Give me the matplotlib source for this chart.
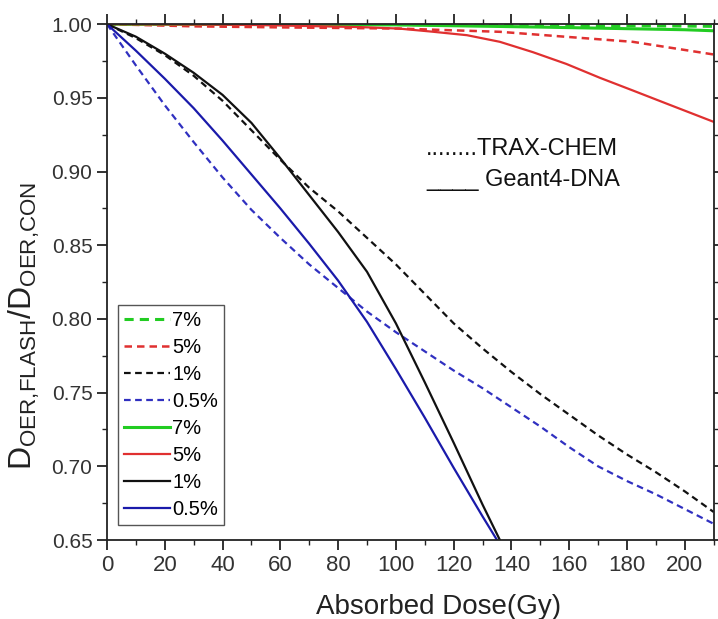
import numpy as np
import matplotlib
matplotlib.use('Agg')
from matplotlib import pyplot as plt
from matplotlib.ticker import MultipleLocator

plt.rcParams['font.family'] = ['Liberation Sans', 'DejaVu Sans']

# TRAX-CHEM (dashed)
trax_7_x = [0, 50, 100, 150, 200, 210]
trax_7_y = [1.0, 1.0, 0.9997, 0.9993, 0.9987, 0.9985]
trax_5_x = [0, 30, 60, 101, 136, 159, 182, 210]
trax_5_y = [1.0, 0.9985, 0.9978, 0.997, 0.9948, 0.9914, 0.988, 0.9794]
trax_1_x = [0, 10, 20, 30, 40, 50, 60, 70, 80, 90, 100, 110, 120, 130, 140,
            150, 160, 170, 180, 190, 200, 210]
trax_1_y = [1.0, 0.9905, 0.979, 0.965, 0.948, 0.928, 0.908, 0.889, 0.873, 0.855,
            0.837, 0.817, 0.797, 0.780, 0.764, 0.749, 0.735, 0.721, 0.708,
            0.696, 0.683, 0.669]
trax_05_x = [0, 10, 20, 30, 40, 50, 60, 70, 80, 90, 100, 110, 120, 130, 140,
             150, 160, 170, 180, 190, 200, 210]
trax_05_y = [1.0, 0.972, 0.945, 0.92, 0.896, 0.874, 0.855, 0.837, 0.821, 0.805,
             0.791, 0.778, 0.765, 0.753, 0.740, 0.727, 0.713, 0.700, 0.690,
             0.681, 0.671, 0.661]

# Geant4-DNA (solid)
g4_7_x = [0, 100, 150, 200, 210]
g4_7_y = [1.0, 0.9995, 0.998, 0.9962, 0.9955]
g4_5_x = [0, 50, 87.5, 101, 112, 124.6, 136, 147.4, 159, 170.6, 182, 193.8, 210]
g4_5_y = [1.0, 0.9995, 0.998, 0.997, 0.995, 0.9925, 0.988, 0.981, 0.973, 0.9636,
          0.955, 0.946, 0.9337]
g4_1_x = [0, 10, 20, 30, 40, 50, 60, 70, 80, 90, 100, 110, 120, 130, 136]
g4_1_y = [1.0, 0.9915, 0.980, 0.967, 0.952, 0.933, 0.909, 0.884, 0.859, 0.832,
          0.797, 0.757, 0.716, 0.674, 0.65]
g4_05_x = [0, 10, 20, 30, 40, 50, 60, 70, 80, 90, 100, 110, 120, 130, 135]
g4_05_y = [1.0, 0.982, 0.963, 0.943, 0.921, 0.898, 0.875, 0.851, 0.826, 0.798,
           0.766, 0.733, 0.699, 0.666, 0.65]

labels = ['7%', '5%', '1%', '0.5%']
green, red, black, blue = '#22cc22', '#e03030', '#111111', '#1a1aaa'
ink = '#222222'

fig = plt.figure(figsize=(7.18, 6.19), dpi=100)
ax = fig.add_axes([0.149, 0.1276, 0.845, 0.8334])

dash = (0, (3, 2))
ax.plot(trax_7_x, trax_7_y, color=green, ls=dash, lw=2.2, label=labels[0])
ax.plot(trax_5_x, trax_5_y, color=red, ls=dash, lw=1.8, label=labels[1])
ax.plot(trax_1_x, trax_1_y, color=black, ls=dash, lw=1.6, label=labels[2])
ax.plot(trax_05_x, trax_05_y, color='#3030c0', ls=dash, lw=1.6, label=labels[3])
ax.plot(g4_7_x, g4_7_y, color=green, lw=2.2, label=labels[0])
ax.plot(g4_5_x, g4_5_y, color=red, lw=1.6, label=labels[1])
ax.plot(g4_1_x, g4_1_y, color=black, lw=1.6, label=labels[2])
ax.plot(g4_05_x, g4_05_y, color=blue, lw=1.6, label=labels[3])

ax.set_xlim(0, 210)
ax.set_ylim(0.65, 1.0)
ax.xaxis.set_major_locator(MultipleLocator(20))
ax.xaxis.set_minor_locator(MultipleLocator(10))
ax.yaxis.set_major_locator(MultipleLocator(0.05))
ax.yaxis.set_minor_locator(MultipleLocator(0.025))
ax.yaxis.set_major_formatter(plt.FuncFormatter(lambda v, p: '%.2f' % v))
ax.tick_params(which='both', direction='out', top=True, right=True,
               color=ink, labelcolor='#333333')
ax.tick_params(axis='y', labelsize=15)
ax.tick_params(axis='x', labelsize=16)
ax.tick_params(which='major', length=7, width=1.3)
ax.tick_params(which='minor', length=3.5, width=1)
for s in ax.spines.values():
    s.set_linewidth(1.3)
    s.set_color(ink)

ax.set_xlabel('Absorbed Dose(Gy)', fontsize=20, color=ink)
ax.xaxis.set_label_coords(0.547, -0.105)
ax.set_ylabel(r'D$_{\mathregular{OER{,}FLASH}}$/D$_{\mathregular{OER{,}CON}}$',
              fontsize=23, color=ink)
ax.yaxis.set_label_coords(-0.107, 0.415)

leg = ax.legend(loc='lower left', bbox_to_anchor=(0.018, 0.029), borderaxespad=0,
                fontsize=14.5, handlelength=2.3, handletextpad=0.1,
                labelspacing=0.4, fancybox=False, framealpha=1,
                edgecolor='#555555', borderpad=0.3)
leg.get_frame().set_linewidth(1.0)

ax.text(0.526, 0.746, '........TRAX-CHEM', transform=ax.transAxes,
        fontsize=17, color='#111111', va='baseline')
ax.text(0.526, 0.686, '____ Geant4-DNA', transform=ax.transAxes,
        fontsize=17, color='#111111', va='baseline')

fig.savefig('out.png', dpi=100)
